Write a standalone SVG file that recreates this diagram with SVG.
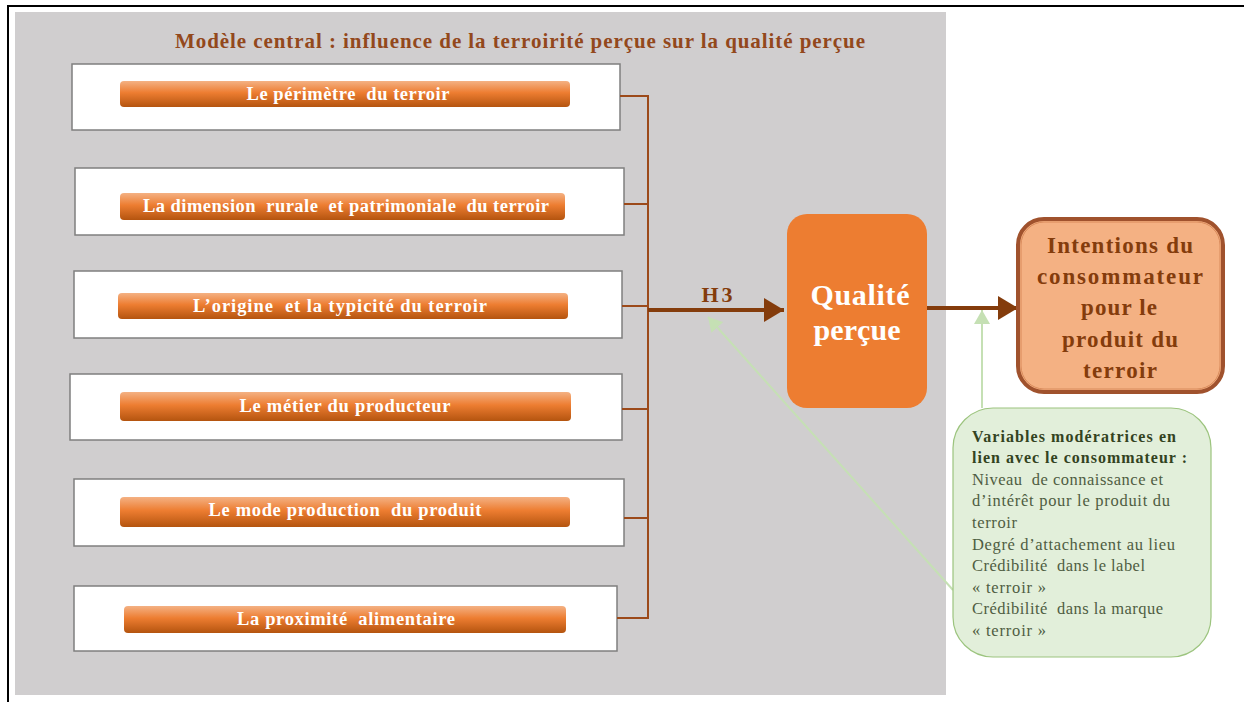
<svg xmlns="http://www.w3.org/2000/svg" width="1244" height="702" viewBox="0 0 1244 702" xml:space="preserve">
<defs>
<linearGradient id="bar" x1="0" y1="0" x2="0" y2="1">
<stop offset="0" stop-color="#f4b183"/>
<stop offset="0.45" stop-color="#ed7d31"/>
<stop offset="1" stop-color="#b4540f"/>
</linearGradient>
<marker id="ah" markerWidth="6" markerHeight="6" refX="5" refY="3" orient="auto" markerUnits="strokeWidth">
<path d="M0,0 L5,3 L0,6 z" fill="#843c0c"/>
</marker>
<marker id="ag" markerWidth="8" markerHeight="8" refX="7" refY="4" orient="auto" markerUnits="strokeWidth">
<path d="M0,0 L7,4 L0,8 z" fill="#c5e0b4"/>
</marker>
</defs>
<style>
.box{fill:#fff;stroke:#7f7f7f;stroke-width:1.5}
.bar{fill:url(#bar)}
.bt{font-family:"Liberation Serif",serif;font-weight:bold;font-size:18.5px;fill:#fff;text-anchor:middle;white-space:pre}
.bus{stroke:#9c4a1a;stroke-width:2;fill:none}
.thick{stroke:#843c0c;stroke-width:4;fill:none}
.green{stroke:#c5e0b4;stroke-width:2;fill:none}
.gt{font-family:"Liberation Serif",serif;font-size:16.5px;fill:#4f5d42;white-space:pre}
.gtb{font-family:"Liberation Serif",serif;font-size:16px;font-weight:bold;fill:#33431f}
.it{font-family:"Liberation Serif",serif;font-weight:bold;font-size:23px;fill:#843c0c;text-anchor:middle}
.qt{font-family:"Liberation Serif",serif;font-weight:bold;font-size:30px;fill:#fff;text-anchor:middle}
</style>
<rect x="0" y="0" width="1244" height="702" fill="#fff"/>
<path d="M8,702 V6 H1244" stroke="#000" stroke-width="2" fill="none"/>
<rect x="15" y="12" width="931" height="683" fill="#d0cecf"/>
<text x="520" y="48" font-family="Liberation Serif,serif" font-weight="bold" font-size="21" fill="#93481c" text-anchor="middle" textLength="690">Modèle central : influence de la terroirité perçue sur la qualité perçue</text>

<g id="n1"><rect class="box" x="72" y="64" width="548" height="66"/><rect class="bar" x="120" y="81" width="450" height="26" rx="4"/><text class="bt" x="348" y="100" textLength="203">Le périmètre  du terroir</text></g>
<g id="n2"><rect class="box" x="75" y="168" width="549" height="67"/><rect class="bar" x="120" y="193" width="445" height="27" rx="4"/><text class="bt" x="346" y="212" textLength="406">La dimension  rurale  et patrimoniale  du terroir</text></g>
<g id="n3"><rect class="box" x="74" y="271" width="548" height="67"/><rect class="bar" x="118" y="293" width="450" height="26" rx="4"/><text class="bt" x="340" y="312" textLength="294">L’origine  et la typicité du terroir</text></g>
<g id="n4"><rect class="box" x="70" y="374" width="552" height="66"/><rect class="bar" x="120" y="392" width="451" height="29" rx="4"/><text class="bt" x="345" y="412" textLength="211">Le métier du producteur</text></g>
<g id="n5"><rect class="box" x="74" y="479" width="550" height="67"/><rect class="bar" x="120" y="497" width="450" height="30" rx="4"/><text class="bt" x="345" y="516" textLength="273">Le mode production  du produit</text></g>
<g id="n6"><rect class="box" x="74" y="586" width="543" height="65"/><rect class="bar" x="124" y="606" width="442" height="27" rx="4"/><text class="bt" x="346" y="625" textLength="218">La proximité  alimentaire</text></g>

<g id="connectors">
<path class="bus" d="M620,96 H648 M624,204 H648 M622,306 H648 M622,409 H648 M624,518 H648 M617,618 H648 M648,95 V619"/>
<line class="thick" x1="648" y1="310" x2="784" y2="310" marker-end="url(#ah)"/>
<line class="thick" x1="927" y1="308" x2="1018" y2="308" marker-end="url(#ah)"/>
<line class="green" x1="953" y1="590" x2="708" y2="317" marker-end="url(#ag)"/>
<line class="green" x1="982" y1="408" x2="982" y2="310" marker-end="url(#ag)"/>
<text x="717" y="302" font-family="Liberation Serif,serif" font-weight="bold" font-size="22" fill="#843c0c" text-anchor="middle" textLength="31">H3</text>
</g>

<g id="qualite">
<rect x="787" y="214" width="140" height="194" rx="20" fill="#ed7d31"/>
<text class="qt" x="860" y="305" textLength="99">Qualité</text>
<text class="qt" x="857" y="340" textLength="87">perçue</text>
</g>

<g id="intentions">
<rect x="1018" y="219" width="205" height="173" rx="26" fill="#f4b183" stroke="#a0522d" stroke-width="4"/>
<rect x="1021" y="222" width="199" height="167" rx="23" fill="none" stroke="#d98a5a" stroke-width="1"/>
<text class="it" x="1120" y="253" textLength="146">Intentions du</text>
<text class="it" x="1120" y="284" textLength="166">consommateur</text>
<text class="it" x="1119" y="315" textLength="76">pour le</text>
<text class="it" x="1120" y="347" textLength="116">produit du</text>
<text class="it" x="1120" y="378" textLength="74">terroir</text>
</g>

<g id="moderatrices">
<rect x="953" y="408" width="258" height="249" rx="40" fill="#e2efda" stroke="#9cc47e" stroke-width="1.2"/>
<text class="gtb" x="972" y="442" textLength="204">Variables modératrices en</text>
<text class="gtb" x="972" y="463" textLength="215">lien avec le consommateur :</text>
<text class="gt" x="972" y="485" textLength="191">Niveau  de connaissance et</text>
<text class="gt" x="972" y="506" textLength="198">d’intérêt pour le produit du</text>
<text class="gt" x="972" y="528" textLength="45">terroir</text>
<text class="gt" x="972" y="550" textLength="203">Degré d’attachement au lieu</text>
<text class="gt" x="972" y="571" textLength="173">Crédibilité  dans le label</text>
<text class="gt" x="972" y="593" textLength="74">« terroir »</text>
<text class="gt" x="972" y="614" textLength="191">Crédibilité  dans la marque</text>
<text class="gt" x="972" y="636" textLength="74">« terroir »</text>
</g>
</svg>
